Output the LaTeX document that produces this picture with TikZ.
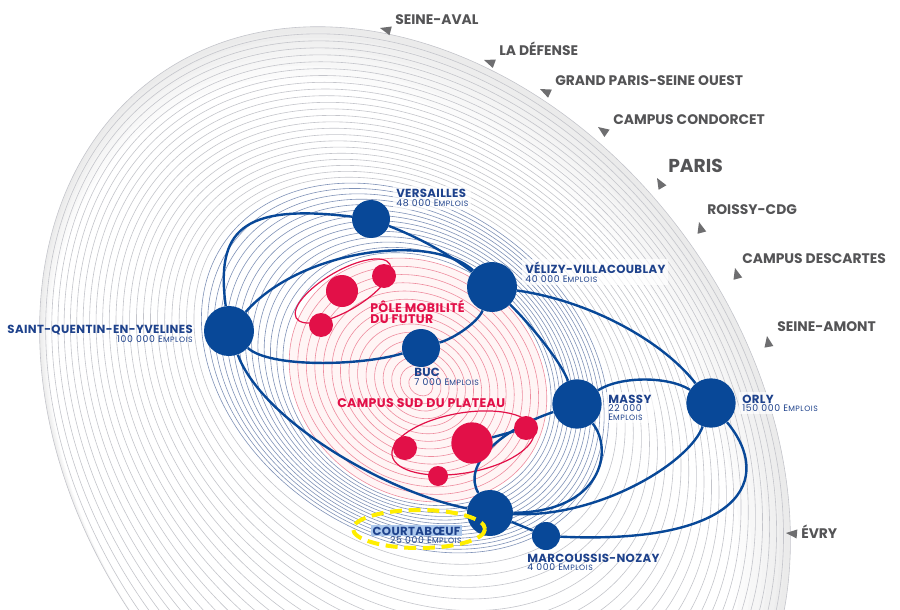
\documentclass[tikz,border=0pt]{standalone}
\usepackage{fontspec}
\setmainfont{Poppins}
\usetikzlibrary{calc,positioning,fit}

\definecolor{hubblue}{RGB}{8,72,152}
\definecolor{labblue}{RGB}{30,66,140}
\definecolor{polered}{RGB}{226,16,72}
\definecolor{pingrey}{RGB}{110,110,112}
\definecolor{txtgrey}{RGB}{84,84,86}
\definecolor{ringgrey}{RGB}{196,197,203}
\definecolor{ringblue}{RGB}{128,146,184}
\definecolor{ringred}{RGB}{238,140,158}
\definecolor{hilite}{RGB}{172,200,236}
\definecolor{markyellow}{RGB}{255,238,0}

\pgfdeclarelayer{rings}
\pgfdeclarelayer{links}
\pgfsetlayers{rings,links,main}

\tikzset{
  hub/.style={circle, fill=hubblue, inner sep=0pt, minimum size=#1},
  spot/.style={circle, fill=polered, inner sep=0pt, minimum size=#1},
  link/.style={draw=hubblue, line width=1.8pt},
  loopline/.style={draw=polered, line width=0.9pt},
  ttl/.style={font=\bfseries\fontsize{8.8}{10}\selectfont\addfontfeature{LetterSpace=3}, text=labblue, inner sep=0pt, anchor=base west},
  sub/.style={font=\fontsize{7}{7}\selectfont\addfontfeature{LetterSpace=7}, text=labblue, inner sep=0pt, anchor=base west},
  zone/.style={font=\bfseries\fontsize{9.4}{10}\selectfont\addfontfeature{LetterSpace=3}, text=polered, inner sep=0pt, anchor=base west},
  dest/.style={font=\bfseries\fontsize{10.4}{11}\selectfont, text=txtgrey, inner sep=0pt, anchor=base west},
  labbox/.style={fill=white, fill opacity=0.7, inner sep=2pt},
}
\newcommand\emplois{E{\fontsize{5.8}{6}\selectfont MPLOIS}}
\newcommand\jobs[1]{#1 \emplois}
% tip at (#1,#2), turned by #3
\newcommand\pin[3]{\fill[pingrey, rotate around={#3:(#1,#2)}] (#1,#2) -- ++(11,4.5) -- ++(0,-9) -- cycle;}

\begin{document}
\begin{tikzpicture}[x=0.75pt, y=-0.75pt]
\useasboundingbox (0,0) rectangle (900,610);

% rings
\begin{pgfonlayer}{rings}
  % grey rim, fading toward the lower left
  \foreach \k in {0,...,10}{
    \pgfmathtruncatemacro\g{16-1.6*\k}
    \pgfmathsetmacro\cx{415-2.3*\k}
    \pgfmathsetmacro\cy{435+2.3*\k}
    \pgfmathsetmacro\da{3.3*\k}
    \fill[gray!\g, rotate around={-54:(\cx,\cy)}] (\cx,\cy) ellipse [x radius=442-\da, y radius=335-\da];
  }
  \fill[red!4, rotate around={-35:(418,380)}] (418,380) ellipse [x radius=135, y radius=115];
  \foreach \nn/\col/\xa/\ya/\aa/\ba/\ta/\xb/\yb/\ab/\bb/\tb in {
      15/ringred/421/385/4/3/-35/418/380/135/115/-35,
      14/ringblue/418/380/135/115/-35/405/368/220/165/-35,
      24/ringgrey/405/368/220/165/-35/415/435/442/335/-54}{
    \foreach \i in {1,...,\nn}{
      \pgfmathsetmacro\s{\i/\nn}
      \pgfmathsetmacro\rx{(\xa)+\s*((\xb)-(\xa))}
      \pgfmathsetmacro\ry{(\ya)+\s*((\yb)-(\ya))}
      \pgfmathsetmacro\ra{(\aa)+\s*((\ab)-(\aa))}
      \pgfmathsetmacro\rb{(\ba)+\s*((\bb)-(\ba))}
      \pgfmathsetmacro\rt{(\ta)+\s*((\tb)-(\ta))}
      \draw[\col, line width=0.45pt, rotate around={\rt:(\rx,\ry)}] (\rx,\ry) ellipse [x radius=\ra, y radius=\rb];
    }
  }
\end{pgfonlayer}

% hubs
\node[hub=28.5pt] (ver) at (371,219) {};
\node[hub=37.5pt] (vel) at (492,287) {};
\node[hub=37.5pt] (sqy) at (229,331) {};
\node[hub=28.5pt] (buc) at (421,348) {};
\node[hub=37pt] (mas) at (577,404) {};
\node[hub=37pt] (orl) at (711,403) {};
\node[hub=34.5pt] (cou) at (490,513) {};
\node[hub=21pt] (mar) at (546,536) {};

% poles
\node[spot=24pt] (pm1) at (342,291) {};
\node[spot=18pt] (pm2) at (384,276) {};
\node[spot=18pt] (pm3) at (321,325) {};
\node[spot=31pt] (cs1) at (472,443) {};
\node[spot=18pt] (cs2) at (405,448) {};
\node[spot=15pt] (cs3) at (438,476) {};
\node[spot=18pt] (cs4) at (526,428) {};

% labels
\node[ttl] (ver-t) at (396,197) {VERSAILLES};
\node[sub] (ver-s) at (396,206.5) {\jobs{48 000}};
\node[ttl] (vel-t) at (525,273.5) {VÉLIZY-VILLACOUBLAY};
\node[sub] (vel-s) at (525,282.5) {\jobs{40 000}};
\node[ttl, anchor=base east] (sqy-t) at (193,333) {SAINT-QUENTIN-EN-YVELINES};
\node[sub, anchor=base east] (sqy-s) at (193,342.5) {\jobs{100 000}};
\node[ttl] (buc-t) at (414,376) {BUC};
\node[sub] (buc-s) at (414,385) {\jobs{7 000}};
\node[ttl] (mas-t) at (608,403) {MASSY};
\node[sub] (mas-s) at (608,411.5) {22 000};
\node[sub] (mas-e) at (608,420) {\emplois};
\node[ttl] (orl-t) at (742,403) {ORLY};
\node[sub] (orl-s) at (742,411.5) {\jobs{150 000}};
\node[ttl, anchor=base east, fill=hilite, inner sep=1pt] (cou-t) at (462,535) {COURTABŒUF};
\node[sub, anchor=base east] (cou-s) at (462,543.5) {\jobs{25 000}};
\node[ttl] (mar-t) at (527,562) {MARCOUSSIS-NOZAY};
\node[sub] (mar-s) at (527,570.5) {\jobs{4 000}};

\node[zone] (pm-t) at (370,312) {PÔLE MOBILITÉ};
\node[zone] (pm-s) at (370,323.5) {DU FUTUR};
\node[zone] (cs-t) at (337,407) {CAMPUS SUD DU PLATEAU};

% destinations on the rim
\node[dest] (d1) at (395,25) {SEINE-AVAL};
\node[dest] (d2) at (499,56) {LA DÉFENSE};
\node[dest] (d3) at (555,86) {GRAND PARIS-SEINE OUEST};
\node[dest] (d4) at (613,124) {CAMPUS CONDORCET};
\node[dest, font=\bfseries\fontsize{14}{15}\selectfont] (d5) at (668,172) {PARIS};
\node[dest] (d6) at (707,214) {ROISSY-CDG};
\node[dest] (d7) at (742,263) {CAMPUS DESCARTES};
\node[dest] (d8) at (777,331) {SEINE-AMONT};
\node[dest] (d9) at (801,538) {ÉVRY};
\pin{380}{28}{-15}
\pin{484}{60}{-20}
\pin{540}{89}{-25}
\pin{598}{127}{-35}
\pin{657}{178}{-60}
\pin{699}{222}{-75}
\pin{735}{268}{-75}
\pin{767}{336}{-80}
\pin{786}{533}{-5}

\draw[markyellow, line width=3pt, dash pattern=on 9pt off 5pt] (419,529) ellipse [x radius=66, y radius=19];

\begin{pgfonlayer}{links}
  \node[labbox, fit=(ver-t)(ver-s)] {};
  \node[labbox, fit=(vel-t)(vel-s)] {};
  \node[labbox, fit=(mas-t)(mas-e)] {};
  \node[labbox, fit=(orl-t)(orl-s)] {};
  \draw[loopline, rotate around={30:(343,291)}] (343,291) ellipse [x radius=54, y radius=20];
  \draw[loopline, rotate around={10:(463,443)}] (463,443) ellipse [x radius=72, y radius=30];
  \draw[link] (ver) .. controls (240,203) and (216,232) .. (sqy);
  \draw[link] (ver) .. controls (420,238) and (450,255) .. (vel);
  \draw[link] (sqy) .. controls (300,250) and (430,232) .. (vel);
  \draw[link] (sqy) .. controls (270,368) and (360,366) .. (buc);
  \draw[link] (buc) .. controls (455,338) and (478,322) .. (vel);
  \draw[link] (sqy) .. controls (262,420) and (385,492) .. (cou);
  \draw[link] (vel) .. controls (528,322) and (560,360) .. (mas);
  \draw[link] (vel) .. controls (585,300) and (660,338) .. (orl);
  \draw[link] (mas) .. controls (620,376) and (668,376) .. (orl);
  \draw[link] (mas) .. controls (500,430) and (462,465) .. (cou);
  \draw[link] (cs4) -- (cs1);
  \draw[link] (mas) .. controls (614,450) and (602,512) .. (cou);
  \draw[link] (orl) .. controls (690,462) and (600,518) .. (cou);
  \draw[link] (orl) .. controls (775,480) and (740,545) .. (mar);
  \draw[link] (cou) -- (mar);
\end{pgfonlayer}
\end{tikzpicture}
\end{document}
